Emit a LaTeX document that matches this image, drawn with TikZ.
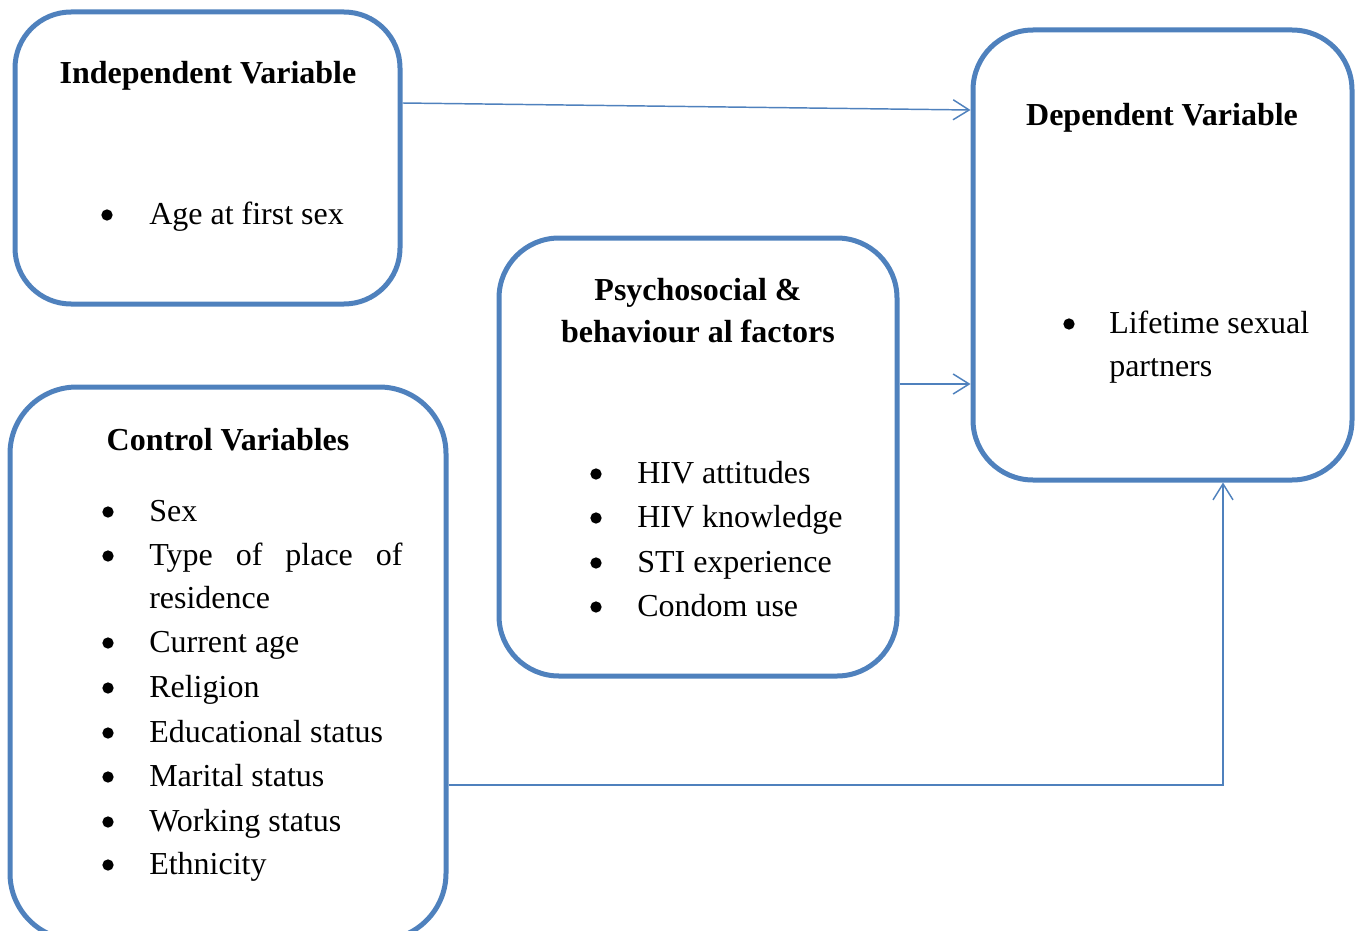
\documentclass[tikz,border=0pt]{standalone}
\usepackage{fontspec}
\setmainfont{Liberation Serif}
\usetikzlibrary{arrows.meta,fit}
\definecolor{boxblue}{HTML}{4F81BD}
\tikzset{
  box/.style={draw=boxblue, line width=3.75pt, rounded corners=45pt, inner sep=0pt},
  conn/.style={draw=boxblue, line width=1.1pt, -{Straight Barb[length=12pt,width=15pt]}},
  ttl/.style={anchor=base, font=\fontsize{24}{28}\selectfont\bfseries, inner sep=0pt},
  itm/.style={anchor=base west, font=\fontsize{24}{28}\selectfont, inner sep=0pt},
  bul/.style={circle, fill=black, inner sep=0pt, minimum size=8.5pt, yshift=6.75pt},
}
\begin{document}
\begin{tikzpicture}[x=0.75pt,y=-0.75pt]
\useasboundingbox (0,0) rectangle (1360,931);
% boxes
\node[box, rounded corners=42pt, fit={(15,12) (400,304)}] (ind) {};
\node[box, fit={(973,30) (1352,480)}] (dep) {};
\node[box, fit={(499,238) (897,676)}] (psy) {};
\node[box, rounded corners=50pt, fit={(10,387) (446,940)}] (ctl) {};
% independent
\node[ttl] (indt) at (208,84) {Independent Variable};
\node[bul] (indb1) at (107,224) {};
\node[itm] (indi1) at (149,224) {Age at first sex};
% dependent
\node[ttl] (dept) at (1162,126) {Dependent Variable};
\node[bul] (depb1) at (1069,333) {};
\node[itm] (depi1) at (1109,333) {Lifetime sexual};
\node[itm] (depi2) at (1109,376) {partners};
% psychosocial
\node[ttl] (psyt1) at (698,300) {Psychosocial \&};
\node[ttl] (psyt2) at (698,342) {behaviour al factors};
\node[bul] (psyb1) at (596,483) {};
\node[itm] (psyi1) at (637,483) {HIV attitudes};
\node[bul] (psyb2) at (596,527) {};
\node[itm] (psyi2) at (637,527) {HIV knowledge};
\node[bul] (psyb3) at (596,572) {};
\node[itm] (psyi3) at (637,572) {STI experience};
\node[bul] (psyb4) at (596,616) {};
\node[itm] (psyi4) at (637,616) {Condom use};
% control
\node[ttl] (ctlt) at (228,450) {Control Variables};
\node[bul] (cb1) at (108,521) {};
\node[itm] (ci1) at (149,521) {Sex};
\node[bul] (cb2) at (108,565) {};
\node[itm] (ci2) at (149,565) {\makebox[190pt][s]{Type\hfill of\hfill place\hfill of}};
\node[itm] (ci2b) at (149,608) {residence};
\node[bul] (cb3) at (108,652) {};
\node[itm] (ci3) at (149,652) {Current age};
\node[bul] (cb4) at (108,697) {};
\node[itm] (ci4) at (149,697) {Religion};
\node[bul] (cb5) at (108,742) {};
\node[itm] (ci5) at (149,742) {Educational status};
\node[bul] (cb6) at (108,786) {};
\node[itm] (ci6) at (149,786) {Marital status};
\node[bul] (cb7) at (108,831) {};
\node[itm] (ci7) at (149,831) {Working status};
\node[bul] (cb8) at (108,874) {};
\node[itm] (ci8) at (149,874) {Ethnicity};
% connectors
\coordinate (c1) at (1223,785);
\draw[conn] (ind.east |- 0,103) -- (dep.west |- 0,110);
\draw[conn] (psy.east |- 0,384) -- (dep.west |- 0,384);
\draw[conn] (ctl.east |- c1) -- (c1) -- (c1 |- dep.south);
\end{tikzpicture}
\end{document}
